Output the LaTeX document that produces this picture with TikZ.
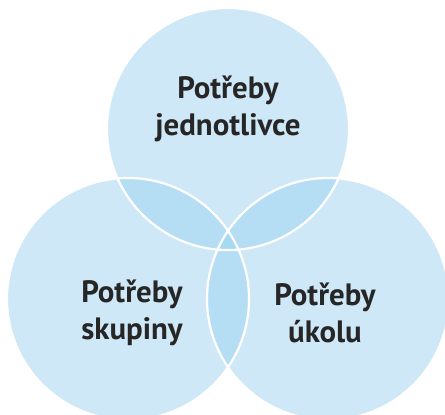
\documentclass[tikz,border=0pt]{standalone}
\usepackage{fontspec}
\setmainfont{PT Sans}
\definecolor{blueone}{RGB}{207,232,248}
\definecolor{bluetwo}{RGB}{181,221,244}
\definecolor{bluethree}{RGB}{166,217,242}
\tikzset{
    label/.style={font=\bfseries\fontsize{31}{37}\selectfont, text=black!85, align=center}
}
\begin{document}
\begin{tikzpicture}[x=1bp,y=1bp]
    \useasboundingbox (0,0) rectangle (445,414);
    \coordinate (T) at (228,285);
    \coordinate (L) at (128,115);
    \coordinate (R) at (328,115);
    \def\rad{121}
    \begin{scope}
        \clip (0,0) rectangle (445,414);
        \fill[blueone] (T) circle (\rad) (L) circle (\rad) (R) circle (\rad);
        \begin{scope}
            \clip (T) circle (\rad);
            \fill[bluetwo] (L) circle (\rad);
            \fill[bluetwo] (R) circle (\rad);
        \end{scope}
        \begin{scope}
            \clip (L) circle (\rad);
            \fill[bluetwo] (R) circle (\rad);
        \end{scope}
        \begin{scope}
            \clip (T) circle (\rad);
            \clip (L) circle (\rad);
            \fill[bluethree] (R) circle (\rad);
        \end{scope}
        \draw[white, line width=2.2bp] (T) circle (\rad) (L) circle (\rad) (R) circle (\rad);
    \end{scope}
    \node[label] (jednotlivec) at (228,305) {Potřeby\\jednotlivce};
    \node[label] (skupina) at (132,101) {Potřeby\\skupiny};
    \node[label] (ukol) at (325,101) {Potřeby\\úkolu};
\end{tikzpicture}
\end{document}
